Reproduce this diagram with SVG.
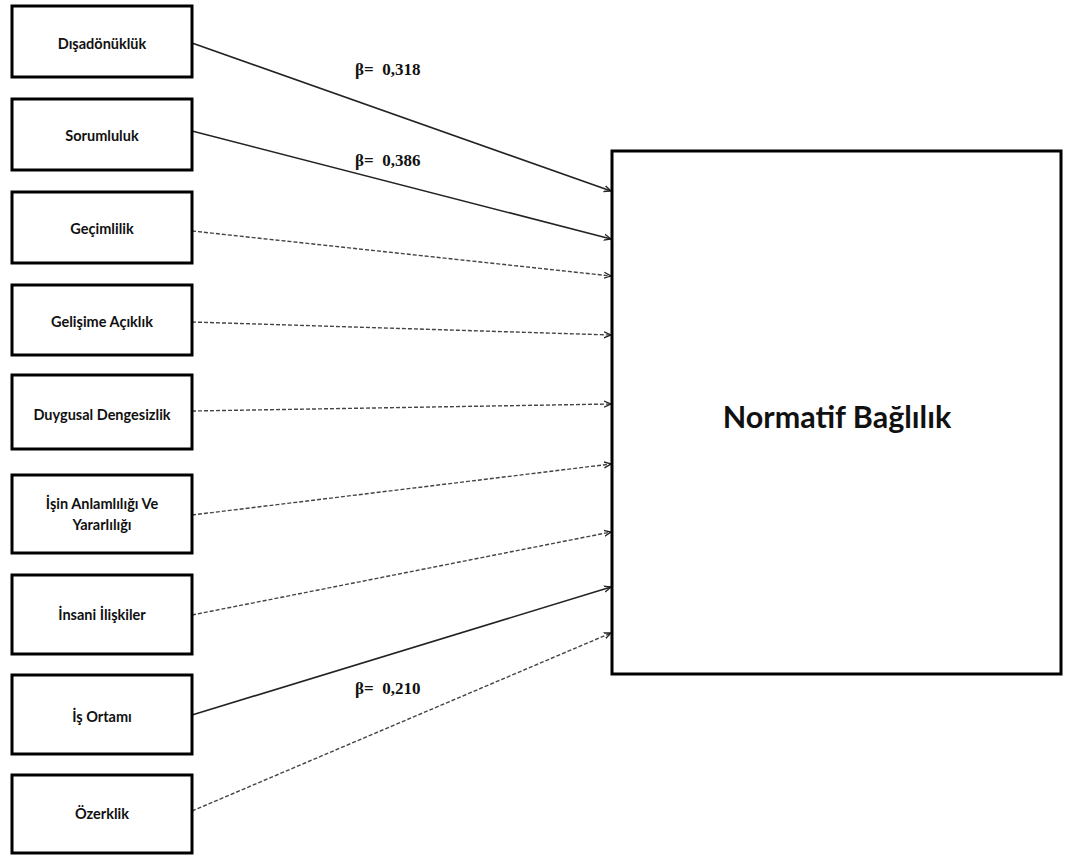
<svg xmlns="http://www.w3.org/2000/svg" width="1070" height="856" viewBox="0 0 1070 856">
<style>
.box{fill:#fff;stroke:#000;stroke-width:3}
.lbl{font-family:Lato,"Open Sans","Liberation Sans",sans-serif;font-weight:bold;font-size:14.5px;fill:#111;text-anchor:middle;dominant-baseline:central}
.big{font-family:Lato,"Open Sans","Liberation Sans",sans-serif;font-weight:bold;font-size:30.5px;fill:#111;text-anchor:middle;dominant-baseline:central}
.beta{font-family:"Liberation Serif",serif;font-weight:bold;font-size:17px;fill:#111}
.c{fill:none;stroke:#222;stroke-width:1.6}
.d{stroke-dasharray:4,2;stroke:#444;stroke-width:1.4}
</style>
<defs>
<marker id="ah" viewBox="0 0 8 8" refX="7" refY="4" markerWidth="8" markerHeight="8" markerUnits="userSpaceOnUse" orient="auto">
<path d="M0,1 L7,4 L0,7" fill="none" stroke="#222" stroke-width="1.3"/>
</marker>
</defs>
<rect width="1070" height="856" fill="#fff"/>
<g id="connectors">
<line class="c" x1="192" y1="43" x2="611" y2="191" marker-end="url(#ah)"/>
<line class="c" x1="192" y1="131" x2="611" y2="239" marker-end="url(#ah)"/>
<line class="c d" x1="192" y1="231" x2="611" y2="276" marker-end="url(#ah)"/>
<line class="c d" x1="192" y1="322" x2="611" y2="335" marker-end="url(#ah)"/>
<line class="c d" x1="192" y1="411" x2="611" y2="404" marker-end="url(#ah)"/>
<line class="c d" x1="192" y1="515" x2="611" y2="464" marker-end="url(#ah)"/>
<line class="c d" x1="192" y1="615" x2="611" y2="532" marker-end="url(#ah)"/>
<line class="c" x1="192" y1="715" x2="611" y2="587" marker-end="url(#ah)"/>
<line class="c d" x1="192" y1="811" x2="611" y2="633" marker-end="url(#ah)"/>
<text class="beta" x="355" y="75" xml:space="preserve">β=  0,318</text>
<text class="beta" x="355" y="166" xml:space="preserve">β=  0,386</text>
<text class="beta" x="355" y="694" xml:space="preserve">β=  0,210</text>
</g>
<g id="n1"><rect class="box" x="12" y="6" width="180" height="71"/><text class="lbl" x="102" y="43">Dışadönüklük</text></g>
<g id="n2"><rect class="box" x="12" y="99" width="180" height="71"/><text class="lbl" x="102" y="135">Sorumluluk</text></g>
<g id="n3"><rect class="box" x="12" y="192" width="180" height="71"/><text class="lbl" x="102" y="228">Geçimlilik</text></g>
<g id="n4"><rect class="box" x="12" y="285" width="180" height="70"/><text class="lbl" x="102" y="321">Gelişime Açıklık</text></g>
<g id="n5"><rect class="box" x="12" y="375" width="180" height="74"/><text class="lbl" x="102" y="414">Duygusal Dengesizlik</text></g>
<g id="n6"><rect class="box" x="12" y="475" width="180" height="78"/><text class="lbl" x="102" y="503">İşin Anlamlılığı Ve</text><text class="lbl" x="102" y="524">Yararlılığı</text></g>
<g id="n7"><rect class="box" x="12" y="575" width="180" height="79"/><text class="lbl" x="102" y="614">İnsani İlişkiler</text></g>
<g id="n8"><rect class="box" x="12" y="675" width="180" height="79"/><text class="lbl" x="102" y="716">İş Ortamı</text></g>
<g id="n9"><rect class="box" x="12" y="775" width="180" height="78"/><text class="lbl" x="102" y="813">Özerklik</text></g>
<g id="target"><rect class="box" x="612" y="151" width="449" height="523"/><text class="big" x="837" y="416">Normatif Bağlılık</text></g>
</svg>
